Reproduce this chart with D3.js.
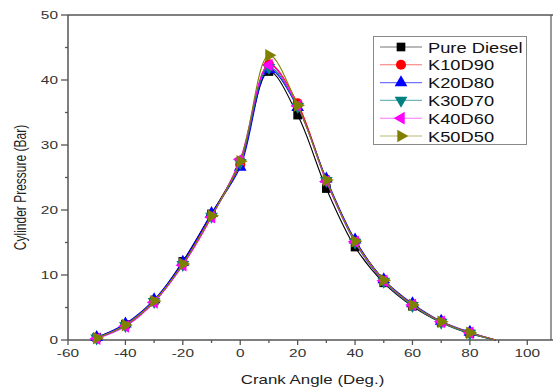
<!DOCTYPE html>
<html>
<head>
<meta charset="utf-8">
<script src="https://cdn.jsdelivr.net/npm/d3@7"></script>
<style>
  body { margin: 0; background: #fff; }
  svg { display: block; font-family: Arial, "Liberation Sans", sans-serif; }
</style>
</head>
<body>
<svg id="chart" width="553" height="387"></svg>
<script>
// data
const angles = [-50, -40, -30, -20, -10, 0, 10, 20, 30, 40, 50, 60, 70, 80, 89];
const pureDiesel = [0.4, 2.4, 6.0, 12.1, 19.4, 27.4, 41.3, 34.6, 23.3, 14.3, 8.8, 5.2, 2.7, 1.0, 0];
const k10d90 = [0.3, 2.3, 6.0, 11.8, 19.2, 27.0, 42.4, 36.4, 24.6, 15.3, 9.2, 5.4, 2.8, 1.1, 0];
const k20d80 = [0.4, 2.5, 6.2, 12.0, 19.5, 26.6, 41.6, 35.8, 24.8, 15.4, 9.3, 5.6, 2.9, 1.2, 0];
const k30d70 = [0.3, 2.2, 5.9, 11.6, 19.0, 27.3, 41.9, 35.9, 24.5, 15.0, 9.0, 5.3, 2.7, 1.0, 0];
const k40d60 = [0.2, 2.1, 5.8, 11.5, 18.9, 27.8, 42.3, 36.0, 24.4, 15.1, 9.1, 5.4, 2.8, 1.1, 0];
const k50d50 = [0.3, 2.3, 6.0, 11.7, 19.1, 27.5, 43.8, 36.1, 24.6, 15.2, 9.2, 5.4, 2.8, 1.1, 0];
const seriesNames = ['Pure Diesel', 'K10D90', 'K20D80', 'K30D70', 'K40D60', 'K50D50'];
const xTicks = [-60, -40, -20, 0, 20, 40, 60, 80, 100];
const yTicks = [0, 10, 20, 30, 40, 50];

const series = [
  { name: seriesNames[0], values: pureDiesel, color: '#000000', symbol: d3.symbolSquare, size: 75, rot: 0 },
  { name: seriesNames[1], values: k10d90, color: '#ff0000', symbol: d3.symbolCircle, size: 80, rot: 0 },
  { name: seriesNames[2], values: k20d80, color: '#0000ff', symbol: d3.symbolTriangle, size: 70, rot: 0 },
  { name: seriesNames[3], values: k30d70, color: '#008080', symbol: d3.symbolTriangle, size: 70, rot: 180 },
  { name: seriesNames[4], values: k40d60, color: '#ff00ff', symbol: d3.symbolTriangle, size: 70, rot: -90 },
  { name: seriesNames[5], values: k50d50, color: '#808000', symbol: d3.symbolTriangle, size: 70, rot: 90 }
];

const svg = d3.select('#chart');
const area = { left: 68, right: 556, top: 15, bottom: 340, frameRight: 551 };

const x = d3.scaleLinear().domain([-60, 110]).range([area.left, area.right]);
const y = d3.scaleLinear().domain([0, 50]).range([area.bottom, area.top]);

// frame
const axisColor = '#555';
svg.append('line').attr('x1', area.left).attr('x2', 553).attr('y1', area.top).attr('y2', area.top)
  .attr('stroke', axisColor).attr('stroke-width', 1.5);
svg.append('line').attr('x1', area.frameRight).attr('x2', area.frameRight).attr('y1', area.top).attr('y2', area.bottom)
  .attr('stroke', axisColor).attr('stroke-width', 1.2);

// x axis
const xAxis = svg.append('g').attr('transform', `translate(0,${area.bottom})`);
xAxis.append('line').attr('x1', area.left).attr('x2', 553).attr('stroke', axisColor).attr('stroke-width', 1.5);
xAxis.selectAll('.minor').data(d3.range(-50, 111, 20)).enter()
  .append('line').attr('x1', d => x(d)).attr('x2', d => x(d)).attr('y1', 0).attr('y2', 3)
  .attr('stroke', axisColor).attr('stroke-width', 1.3);
xAxis.selectAll('.major').data(xTicks).enter()
  .append('line').attr('x1', d => x(d)).attr('x2', d => x(d)).attr('y1', 0).attr('y2', 5)
  .attr('stroke', axisColor).attr('stroke-width', 1.3);
xAxis.selectAll('text').data(xTicks).enter()
  .append('text')
  .attr('transform', d => `translate(${x(d)},17) scale(1.4,1)`)
  .attr('text-anchor', 'middle')
  .attr('font-size', 11)
  .attr('fill', '#333')
  .text(d => d);

// y axis
const yAxis = svg.append('g').attr('transform', `translate(${area.left},0)`);
yAxis.append('line').attr('y1', area.top).attr('y2', area.bottom).attr('stroke', axisColor).attr('stroke-width', 1.5);
yAxis.selectAll('.minor').data(d3.range(5, 50, 10)).enter()
  .append('line').attr('y1', d => y(d)).attr('y2', d => y(d)).attr('x1', 0).attr('x2', -3)
  .attr('stroke', axisColor).attr('stroke-width', 1.3);
yAxis.selectAll('.major').data(yTicks).enter()
  .append('line').attr('y1', d => y(d)).attr('y2', d => y(d)).attr('x1', 0).attr('x2', -7)
  .attr('stroke', axisColor).attr('stroke-width', 1.3);
yAxis.selectAll('text').data(yTicks).enter()
  .append('text')
  .attr('transform', d => `translate(-10,${y(d) + 4}) scale(1.4,1)`)
  .attr('text-anchor', 'end')
  .attr('font-size', 11)
  .attr('fill', '#333')
  .text(d => d);

// axis titles
svg.append('text')
  .attr('transform', `translate(${(area.left + area.frameRight) / 2 + 3},${area.bottom + 44}) scale(1.3,1)`)
  .attr('text-anchor', 'middle')
  .attr('font-size', 13)
  .attr('fill', '#222')
  .text('Crank Angle (Deg.)');
svg.append('text')
  .attr('transform', `translate(26,${(area.top + area.bottom) / 2 + 10}) scale(1.35,1) rotate(-90)`)
  .attr('text-anchor', 'middle')
  .attr('font-size', 12)
  .attr('fill', '#222')
  .text('Cylinder Pressure (Bar)');

// lines + markers
const line = d3.line()
  .x((d, i) => x(angles[i]))
  .y(d => y(d))
  .curve(d3.curveCatmullRom.alpha(0.5));

const plot = svg.append('g');
series.forEach(s => {
  plot.append('path')
    .attr('d', line(s.values))
    .attr('fill', 'none')
    .attr('stroke', s.color)
    .attr('stroke-width', 1.1);
  const sym = d3.symbol().type(s.symbol).size(s.size)();
  plot.selectAll(null).data(s.values.slice(0, angles.length - 1)).enter()
    .append('path')
    .attr('d', sym)
    .attr('fill', s.color)
    .attr('transform', (d, i) => `translate(${x(angles[i])},${y(d)}) rotate(${s.rot})`);
});

// legend
const legend = svg.append('g');
legend.append('rect')
  .attr('x', 373.5).attr('y', 36.5).attr('width', 153).attr('height', 108)
  .attr('fill', '#fff').attr('stroke', '#888').attr('stroke-width', 1);
const rowY = d3.scaleLinear().domain([0, 5]).range([47, 136]);
series.forEach((s, i) => {
  const g = legend.append('g').attr('transform', `translate(0,${rowY(i)})`);
  g.append('line').attr('x1', 380).attr('x2', 422).attr('y1', 0).attr('y2', 0)
    .attr('stroke', s.color).attr('stroke-opacity', 0.55).attr('stroke-width', 1.1);
  g.append('path')
    .attr('d', d3.symbol().type(s.symbol).size(s.size)())
    .attr('fill', s.color)
    .attr('transform', `translate(401,0) rotate(${s.rot})`);
  g.append('text')
    .attr('transform', 'translate(428,5.5) scale(1.22,1)')
    .attr('font-size', 15)
    .attr('fill', '#111')
    .text(s.name);
});
</script>
</body>
</html>
